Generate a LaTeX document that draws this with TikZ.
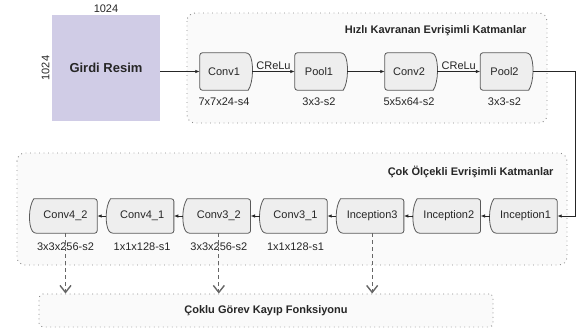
\documentclass[tikz,border=0pt]{standalone}
\usepackage{fontspec}
\setmainfont{Liberation Sans}
\usetikzlibrary{arrows.meta,positioning,backgrounds}

\definecolor{inputfill}{HTML}{D0CCE6}
\definecolor{layerfill}{HTML}{EEEEEE}
\definecolor{layerline}{HTML}{5A5A5A}
\definecolor{groupfill}{HTML}{FAFAFA}
\definecolor{groupline}{HTML}{8A8A8A}

\tikzset{
  layer/.style={inner sep=0pt, minimum height=37pt, minimum width=48pt,
    font=\fontsize{11}{13}\selectfont},
  wide/.style={layer, minimum height=34pt, minimum width=63pt},
  spec/.style={font=\fontsize{11}{13}\selectfont},
  outline/.style={draw=layerline, fill=layerfill, line width=0.8pt},
  group/.style={draw=groupline, fill=groupfill, line width=0.9pt,
    dash pattern=on 0.9pt off 3.6pt, rounded corners=8pt},
  title/.style={font=\bfseries\fontsize{11}{13}\selectfont, anchor=east},
  flow/.style={draw=black!85, line width=0.8pt, -{Latex[length=4.5pt,width=3.5pt]}},
  loss/.style={draw=gray!80!black, line width=1pt, dash pattern=on 4pt off 3pt,
    -{Straight Barb[length=7pt,width=11pt,line width=1.4pt]}},
}

\begin{document}
\begin{tikzpicture}[x=1pt,y=-1pt,text=black!85]
  \useasboundingbox (0,0) rectangle (576,333);

  %% input image and its size
  \node[fill=inputfill, minimum width=108pt, minimum height=106pt,
    font=\bfseries\fontsize{13}{15}\selectfont] (img) at (106,68) {Girdi Resim};
  \node[spec, inner sep=1pt, above=1pt of img] {1024};
  \node[spec, inner sep=1pt, rotate=90, anchor=south] at ([xshift=-1pt]img.west) {1024};

  %% fast convolution layers
  \node[title] at (530,31) {Hızlı Kavranan Evrişimli Katmanlar};
  \node[layer] (conv1) at (224,71.5) {Conv1};
  \node[layer] (pool1) at (319,71.5) {Pool1};
  \node[layer] (conv2) at (409,71.5) {Conv2};
  \node[layer] (pool2) at (504.5,71.5) {Pool2};
  \foreach \n/\s in {conv1/7x7x24-s4, pool1/3x3-s2, conv2/5x5x64-s2, pool2/3x3-s2}
    \node[spec, below=4pt of \n] {\s};

  %% multi-scale convolution layers (right to left)
  \node[title] at (557,172) {Çok Ölçekli Evrişimli Katmanlar};
  \foreach \n/\t [count=\i from 0] in {conv42/Conv4\_2, conv41/Conv4\_1,
      conv32/Conv3\_2, conv31/Conv3\_1, inc3/Inception3, inc2/Inception2, inc1/Inception1}
    \node[wide] (\n) at (65.5+76.67*\i,216) {\t};
  \foreach \n/\s in {conv42/3x3x256-s2, conv41/1x1x128-s1, conv32/3x3x256-s2, conv31/1x1x128-s1}
    \node[spec, below=6pt of \n] {\s};

  %% loss
  \node[group, rounded corners=4pt, minimum width=454pt, minimum height=33pt,
    font=\bfseries\fontsize{11}{13}\selectfont] (lossbox) at (266,310.5) {Çoklu Görev Kayıp Fonksiyonu};

  %% connectors
  \draw[flow] (img.east |- conv1.west) -- (conv1.west);
  \draw[flow] ([xshift=4pt]conv1.east) -- node[spec, above, inner sep=1pt] {CReLu} (pool1.west);
  \draw[flow] ([xshift=4pt]pool1.east) -- (conv2.west);
  \draw[flow] ([xshift=4pt]conv2.east) -- node[spec, above, inner sep=1pt] {CReLu} (pool2.west);
  \draw[flow] ([xshift=4pt]pool2.east) -| ([xshift=18pt]inc1.east) -- (inc1.east);
  \foreach \a/\b in {inc1/inc2, inc2/inc3, inc3/conv31, conv31/conv32, conv32/conv41, conv41/conv42}
    \draw[flow] ([xshift=-4pt]\a.west) -- (\b.east);
  \foreach \n in {conv42, conv32, inc3}
    \draw[loss] (\n.south) -- (\n.south |- lossbox.north);

  %% groups and layer outlines behind the text
  \begin{scope}[on background layer]
    \path[group] (187,13) rectangle (547,123);
    \path[group] (17,153) rectangle (567,265);
    \foreach \n in {conv1,pool1,conv2,pool2}
      \draw[outline] (\n.south east) [rounded corners=2.5pt] -- (\n.south west)
        -- (\n.north west) -- (\n.north east) [sharp corners]
        .. controls +(5.5,8) and +(5.5,-8) .. (\n.south east) -- cycle;
    \foreach \n in {inc1,inc2,inc3,conv31,conv32,conv41,conv42}
      \draw[outline] (\n.north west) [rounded corners=2.5pt] -- (\n.north east)
        -- (\n.south east) -- (\n.south west) [sharp corners]
        .. controls +(-5.5,-8) and +(-5.5,8) .. (\n.north west) -- cycle;
  \end{scope}
\end{tikzpicture}
\end{document}
